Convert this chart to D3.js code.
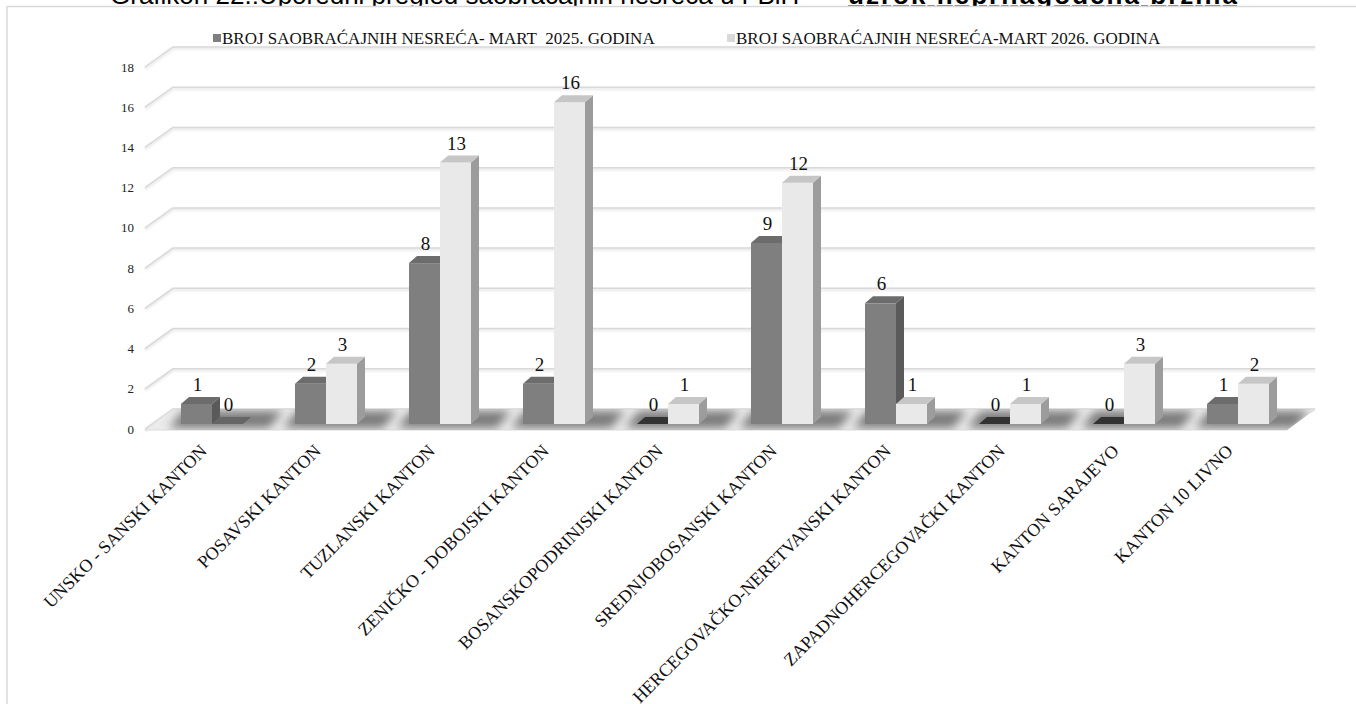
<!DOCTYPE html>
<html>
<head>
<meta charset="utf-8">
<script src="https://cdn.jsdelivr.net/npm/d3@7"></script>
<style>
  body { margin: 0; background: #fff; }
  svg text { font-family: "Liberation Serif", "DejaVu Serif", serif; }
</style>
</head>
<body>
<div id="chart"></div>
<script>
// data
const categories = [
  "UNSKO - SANSKI KANTON", "POSAVSKI KANTON", "TUZLANSKI KANTON",
  "ZENIČKO - DOBOJSKI KANTON", "BOSANSKOPODRINJSKI KANTON", "SREDNJOBOSANSKI KANTON",
  "HERCEGOVAČKO-NERETVANSKI KANTON", "ZAPADNOHERCEGOVAČKI KANTON", "KANTON SARAJEVO", "KANTON 10 LIVNO"
];
const seriesNames = [
  "BROJ SAOBRAĆAJNIH NESREĆA- MART  2025. GODINA",
  "BROJ SAOBRAĆAJNIH NESREĆA-MART 2026. GODINA"
];
const values2025 = [1, 2, 8, 2, 0, 9, 6, 0, 0, 1];
const values2026 = [0, 3, 13, 16, 1, 12, 1, 1, 3, 2];
const yTicks = [0, 2, 4, 6, 8, 10, 12, 14, 16, 18];
const titleText = "Grafikon 22.:Uporedni pregled saobraćajnih nesreća u FBiH –";
const titleBold = "uzrok neprilagođena brzina";

const W = 1356, H = 704;
const dx = 8, dy = -7;          // bar depth
const backDy = -15, frontDy = 5; // wall / floor offsets
const wallBackX = 173, wallFrontX = 145, wallBackR = 1315, wallFrontR = 1287;

// colours per series: front, side, top, zero-top
const palette = [
  { front: "#7f7f7f", side: "#5a5a5a", top: "#6c6c6c", zero: "#333333", legend: "#7f7f7f" },
  { front: "#e9e9e9", side: "#9c9c9c", top: "#c6c6c6", zero: "#666666", legend: "#d9d9d9" }
];

const svg = d3.select("#chart").append("svg")
  .attr("width", W).attr("height", H);

const defs = svg.append("defs");
defs.append("filter").attr("id", "blur").attr("x", "-50%").attr("y", "-100%")
  .attr("width", "200%").attr("height", "300%")
  .append("feGaussianBlur").attr("stdDeviation", 5);
defs.append("filter").attr("id", "soft")
  .append("feGaussianBlur").attr("stdDeviation", 0.8);

// title (its lower edge only shows above the chart frame)
svg.append("text")
  .attr("x", 110).attr("y", 3.5)
  .style("font-family", "'Liberation Sans', Arial, sans-serif")
  .style("font-size", "26px")
  .style("fill", "#000")
  .text(titleText);
svg.append("text")
  .attr("x", 848).attr("y", 3.5)
  .style("font-family", "'Liberation Sans', Arial, sans-serif")
  .style("font-size", "26px")
  .style("font-weight", "bold")
  .style("text-decoration", "underline")
  .attr("textLength", 389)
  .text(titleBold);

// chart frame
svg.append("rect")
  .attr("x", 7).attr("y", 6.5)
  .attr("width", W).attr("height", H)
  .attr("fill", "#fff")
  .attr("stroke", "#d9d9d9")
  .attr("stroke-width", 1.5);

// scales
const x = d3.scaleBand()
  .domain(categories)
  .range([155, 1295])
  .paddingInner(0.456)
  .paddingOuter(0.228);

const xSub = d3.scaleBand()
  .domain([0, 1])
  .range([0, x.bandwidth()]);

const y = d3.scaleLinear().domain([0, 18]).range([424, 62]);

// gridlines: back wall + side wall diagonal
const grid = svg.append("g");
yTicks.forEach(t => {
  const yb = y(t) + backDy, yf = y(t) + frontDy;
  grid.append("path")
    .attr("d", `M${wallFrontX},${yf + 1.5}L${wallBackX},${yb + 1.5}L${wallBackR},${yb + 1.5}`)
    .attr("fill", "none").attr("stroke", "#ececec").attr("stroke-width", 3)
    .attr("filter", "url(#soft)");
  grid.append("path")
    .attr("d", `M${wallFrontX},${yf}L${wallBackX},${yb}L${wallBackR},${yb}`)
    .attr("fill", "none").attr("stroke", "#d9d9d9").attr("stroke-width", 1.5);
});

// y axis labels
svg.append("g").selectAll("text")
  .data(yTicks).enter().append("text")
  .attr("x", 134)
  .attr("y", d => y(d) + frontDy)
  .attr("dy", "0.35em")
  .style("text-anchor", "end")
  .style("font-size", "13px")
  .style("fill", "#222")
  .text(d => d);

// floor
const floorPts = [
  [wallBackX, y(0) + backDy], [wallBackR, y(0) + backDy],
  [wallFrontR, y(0) + frontDy + 1], [wallFrontX, y(0) + frontDy + 1]
];
defs.append("clipPath").attr("id", "floorClip")
  .append("polygon").attr("points", floorPts.map(p => p.join(",")).join(" "));
svg.append("polygon")
  .attr("points", floorPts.map(p => p.join(",")).join(" "))
  .attr("fill", "#ebebeb")
  .attr("stroke", "#dcdcdc").attr("stroke-width", 1);
svg.append("line")
  .attr("x1", wallFrontX).attr("x2", wallFrontR)
  .attr("y1", y(0) + frontDy + 3).attr("y2", y(0) + frontDy + 3)
  .attr("stroke", "#e4e4e4").attr("stroke-width", 3).attr("filter", "url(#soft)");

// floor shadows under each bar pair
svg.append("g").attr("clip-path", "url(#floorClip)")
  .selectAll("polygon")
  .data(categories).enter().append("polygon")
  .attr("points", d => {
    const x0 = x(d) - 12, x1 = x(d) + x.bandwidth() + 26;
    const yt = y(0) + backDy + 2, yb = y(0) + frontDy - 1;
    return [[x0 + 14, yt], [x1 + 14, yt], [x1, yb], [x0, yb]].map(p => p.join(",")).join(" ");
  })
  .attr("fill", "#555")
  .attr("opacity", 0.75)
  .attr("filter", "url(#blur)");

// bars
const bars = svg.append("g");
categories.forEach((c, i) => {
  [values2025[i], values2026[i]].forEach((v, s) => {
    const col = palette[s];
    const bx = x(c) + xSub(s), bw = xSub.bandwidth();
    const yt = y(v), yb = y(0);
    const g = bars.append("g");
    if (v > 0) {
      g.append("rect")
        .attr("x", bx).attr("y", yt)
        .attr("width", bw).attr("height", yb - yt)
        .attr("fill", col.front);
      g.append("polygon")
        .attr("points", [[bx + bw, yt], [bx + bw + dx, yt + dy], [bx + bw + dx, yb + dy], [bx + bw, yb]]
          .map(p => p.join(",")).join(" "))
        .attr("fill", col.side);
    }
    g.append("polygon")
      .attr("points", [[bx, yt], [bx + dx, yt + dy], [bx + bw + dx, yt + dy], [bx + bw, yt]]
        .map(p => p.join(",")).join(" "))
      .attr("fill", v > 0 ? col.top : col.zero);

    // value label
    svg.append("text")
      .attr("x", bx + bw / 2 + 1)
      .attr("y", yt - 13)
      .style("text-anchor", "middle")
      .style("font-size", "19px")
      .style("fill", "#111")
      .text(v);
  });
});

// category labels
svg.append("g").selectAll("text")
  .data(categories).enter().append("text")
  .attr("transform", d => `translate(${x(d) + 27},452) rotate(-45)`)
  .style("text-anchor", "end")
  .style("font-size", "18px")
  .style("fill", "#111")
  .text(d => d);

// legend
const legend = svg.append("g");
const legendX = [213, 727];
seriesNames.forEach((name, s) => {
  legend.append("rect")
    .attr("x", legendX[s]).attr("y", 34)
    .attr("width", 8).attr("height", 8)
    .attr("fill", palette[s].legend);
  legend.append("text")
    .attr("x", legendX[s] + 9).attr("y", 38)
    .attr("dy", "0.35em")
    .style("font-size", "17px")
    .style("white-space", "pre")
    .style("fill", "#111")
    .text(name);
});
</script>
</body>
</html>
